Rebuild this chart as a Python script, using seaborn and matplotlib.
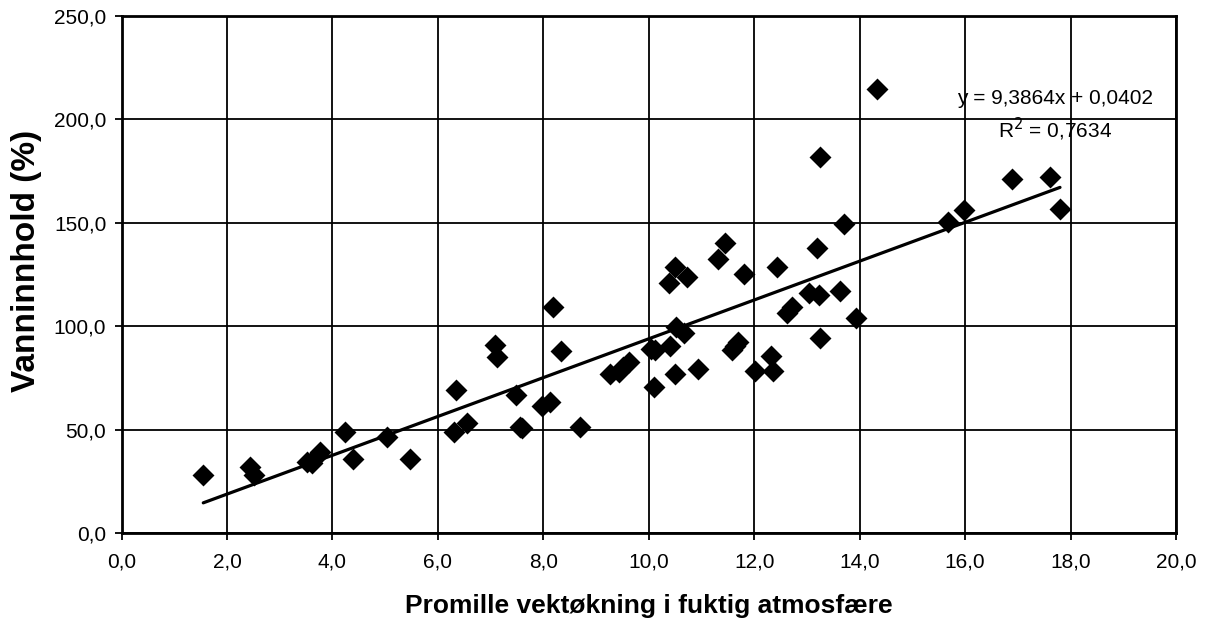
import numpy as np
import pandas as pd
import matplotlib
matplotlib.use("Agg")
import matplotlib.pyplot as plt
import seaborn as sns
from matplotlib.ticker import FuncFormatter

# ---- data ----
x_vals = [1.55, 2.44, 2.51, 3.51, 3.61, 3.67, 3.77, 4.23, 4.39, 5.04,
          5.47, 6.30, 6.34, 6.56, 7.09, 7.12, 7.49, 7.55, 7.60, 7.97,
          8.13, 8.19, 8.34, 8.69, 9.27, 9.43, 9.52, 9.62, 10.05, 10.12,
          10.09, 10.39, 10.40, 10.49, 10.49, 10.52, 10.66, 10.72, 10.93, 11.31,
          11.45, 11.58, 11.64, 11.70, 11.81, 12.02, 12.32, 12.36, 12.44, 12.62,
          12.72, 13.03, 13.19, 13.22, 13.24, 13.24, 13.63, 13.71, 13.93, 14.33,
          15.67, 15.97, 16.89, 17.61, 17.80]
y_vals = [28.0, 31.8, 28.0, 34.5, 33.7, 36.1, 39.3, 48.7, 35.8, 46.3,
          35.6, 49.0, 69.1, 53.3, 90.9, 85.3, 66.7, 51.4, 51.0, 61.4,
          63.5, 109.1, 88.0, 51.1, 76.9, 78.0, 80.4, 82.8, 89.0, 88.3,
          70.7, 120.7, 90.6, 128.8, 76.7, 99.5, 96.6, 123.6, 79.1, 132.4,
          140.1, 88.5, 90.5, 92.5, 125.2, 78.5, 85.6, 78.5, 128.8, 106.5,
          109.4, 116.2, 138.0, 115.1, 94.5, 182.0, 117.2, 149.6, 103.8, 214.6,
          150.5, 156.2, 171.2, 172.0, 156.7]
slope = 9.3864
intercept = 0.0402
r_squared = 0.7634
x_ticks = [0, 2, 4, 6, 8, 10, 12, 14, 16, 18, 20]
y_ticks = [0, 50, 100, 150, 200, 250]
x_label = "Promille vektøkning i fuktig atmosfære"
y_label = "Vanninnhold (%)"

df = pd.DataFrame({"x": x_vals, "y": y_vals})
x_line = np.array([min(x_vals), max(x_vals)])
line_df = pd.DataFrame({"x": x_line, "y": slope * x_line + intercept})

sns.set_theme(style="white")
plt.rcParams["font.family"] = ["Liberation Sans", "DejaVu Sans"]

fig = plt.figure(figsize=(12.07, 6.24), dpi=100)
ax = fig.add_axes([0.1007, 0.1458, 0.8736, 0.8286])

ax.set_xlim(0, 20)
ax.set_ylim(0, 250)
ax.set_xticks(x_ticks)
ax.set_yticks(y_ticks)
ax.grid(True, color="black", linewidth=1.3)
ax.set_axisbelow(True)

sns.lineplot(data=line_df, x="x", y="y", ax=ax, color="black", linewidth=2.3, zorder=3)
sns.scatterplot(data=df, x="x", y="y", ax=ax, marker="D", s=125, color="black",
                edgecolor="black", linewidth=0, zorder=4)

fmt = FuncFormatter(lambda v, p: f"{v:.1f}".replace(".", ","))
ax.xaxis.set_major_formatter(fmt)
ax.yaxis.set_major_formatter(fmt)
ax.tick_params(axis="both", which="major", direction="out", length=5, width=1.3,
               color="black", labelsize=15, labelcolor="black",
               bottom=True, left=True)
ax.tick_params(axis="x", pad=9)
ax.tick_params(axis="y", pad=6)

for side in ["left", "bottom", "top", "right"]:
    ax.spines[side].set_visible(True)
    ax.spines[side].set_color("black")
    ax.spines[side].set_linewidth(2.0)

ax.set_xlabel(x_label, fontsize=19, fontweight="bold", labelpad=16, color="black")
ax.set_ylabel(y_label, fontsize=24, fontweight="bold", color="black")
ax.yaxis.set_label_coords(-0.075, 0.526)

ax.text(0.885, 0.841, f"y = {slope:.4f}x + {intercept:.4f}".replace(".", ","),
        transform=ax.transAxes, ha="center", va="center", fontsize=15, color="black")
ax.text(0.885, 0.781, f"R$^2$ = {r_squared:.4f}".replace(".", ","),
        transform=ax.transAxes, ha="center", va="center", fontsize=15, color="black")

fig.savefig("out.png", dpi=100, facecolor="white")
